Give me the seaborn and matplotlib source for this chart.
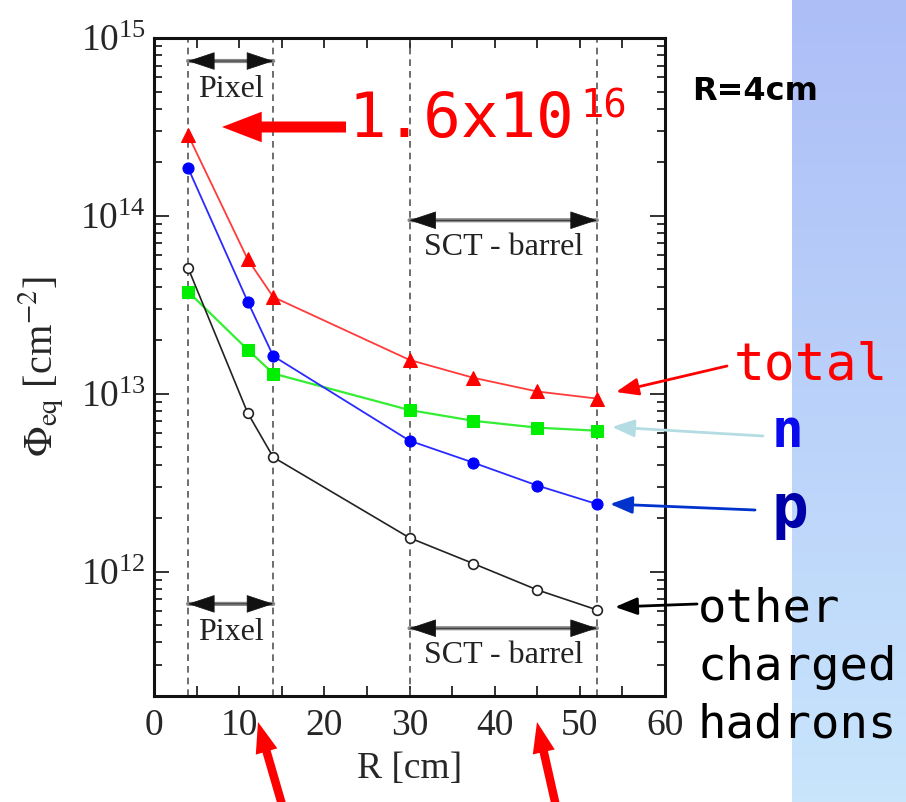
import numpy as np
import pandas as pd
import seaborn as sns
import matplotlib.pyplot as plt
from matplotlib.ticker import LogLocator, MultipleLocator, NullFormatter

# radius of the layers [cm]
radius = [4, 11, 14, 30, 37.5, 45, 52]

# equivalent fluence [cm^-2]
total = [2.85e14, 5.7e13, 3.5e13, 1.55e13, 1.23e13, 1.03e13, 9.4e12]
neutrons = [3.75e13, 1.77e13, 1.3e13, 8.1e12, 7.05e12, 6.45e12, 6.2e12]
protons = [1.86e14, 3.3e13, 1.63e13, 5.45e12, 4.1e12, 3.05e12, 2.4e12]
other = [5.1e13, 7.8e12, 4.4e12, 1.55e12, 1.11e12, 7.9e11, 6.1e11]

detector_edges = [4, 14, 30, 52]
pixel_range = (4, 14)
sct_range = (30, 52)

df = pd.DataFrame({'R': radius, 'total': total, 'n': neutrons,
                   'p': protons, 'other': other})

sns.set_theme(style='ticks')
plt.rcParams['font.family'] = 'serif'
plt.rcParams['font.serif'] = ['Liberation Serif', 'DejaVu Serif']
plt.rcParams['mathtext.fontset'] = 'stix'

W, H = 906, 802
fig = plt.figure(figsize=(W / 100, H / 100), dpi=100)
fig.patch.set_facecolor('white')


def fx(x, y):
    # pixel position (from top-left) -> figure fraction
    return (x / W, 1 - y / H)


# blue gradient strip on the right
bg = fig.add_axes([792 / W, 0, (W - 792) / W, 1], zorder=-5)
top_c = np.array([173, 190, 247]) / 255
bot_c = np.array([200, 229, 252]) / 255
t = np.linspace(0, 1, 200)[:, None, None]
bg.imshow(top_c * (1 - t) + bot_c * t, aspect='auto')
bg.axis('off')

ax = fig.add_axes([154 / W, 1 - 696 / H, (665 - 154) / W, (696 - 38) / H])
ax.set_facecolor('white')

for xe in detector_edges:
    ax.axvline(xe, color='#555555', ls=(0, (4, 3)), lw=1.2, zorder=1)

sns.lineplot(data=df, x='R', y='total', ax=ax, color='#ff3b3b', lw=1.3,
             marker='^', markersize=10, markerfacecolor='red',
             markeredgecolor='red', zorder=3)
sns.lineplot(data=df, x='R', y='n', ax=ax, color='#33ee33', lw=1.6,
             marker='s', markersize=9, markerfacecolor='#00ee00',
             markeredgecolor='#00ee00', zorder=3)
sns.lineplot(data=df, x='R', y='p', ax=ax, color='#2a2aff', lw=1.3,
             marker='o', markersize=8, markerfacecolor='blue',
             markeredgecolor='blue', zorder=3)
sns.lineplot(data=df, x='R', y='other', ax=ax, color='#222222', lw=1.2,
             marker='o', markersize=7, markerfacecolor='white',
             markeredgecolor='#222222', markeredgewidth=1.2, zorder=3)

ax.set_yscale('log')
ax.set_xlim(0, 60)
ax.set_ylim(2e11, 1e15)
ax.xaxis.set_major_locator(MultipleLocator(10))
ax.xaxis.set_minor_locator(MultipleLocator(5))
ax.yaxis.set_major_locator(LogLocator(base=10, numticks=10))
ax.yaxis.set_minor_locator(LogLocator(base=10, subs=np.arange(2, 10), numticks=20))
ax.yaxis.set_minor_formatter(NullFormatter())

ax.tick_params(which='both', direction='in', top=True, right=True,
               width=1.3, color='#222222')
ax.tick_params(axis='y', which='major', length=11, labelsize=27, pad=6)
ax.tick_params(axis='y', which='minor', length=6)
ax.tick_params(axis='x', which='both', length=7, labelsize=27, pad=9)
for s in ax.spines.values():
    s.set_linewidth(2.2)
    s.set_color('#111111')

ax.set_xlabel('R [cm]', fontsize=27, labelpad=6)
ax.set_ylabel(r'$\Phi_{\rm eq}$ [cm$^{-2}$]', fontsize=29, labelpad=10)

# region markers (Pixel / SCT - barrel)
tr = ax.get_xaxis_transform()
for (a, b), label, ya, yt in [(pixel_range, 'Pixel', 0.965, 0.921),
                              (pixel_range, 'Pixel', 0.140, 0.096),
                              (sct_range, 'SCT - barrel', 0.723, 0.682),
                              (sct_range, 'SCT - barrel', 0.103, 0.062)]:
    ax.annotate('', xy=(a, ya), xytext=(b, ya), xycoords=tr,
                arrowprops=dict(arrowstyle='-', color='#888888', lw=3,
                                shrinkA=0, shrinkB=0))
    ax.annotate('', xy=(a, ya), xytext=(b, ya), xycoords=tr,
                arrowprops=dict(arrowstyle='<|-|>,head_length=0.9,head_width=0.3',
                                color='#111111', lw=0.5, mutation_scale=20,
                                shrinkA=0, shrinkB=0))
    ax.text((a + b) / 2, yt, label, transform=tr, ha='center', va='center',
            fontsize=23, color='#222222')

# annotations outside / over the axes
def arrow(tail, head, color, style, ms):
    ax.annotate('', xy=fx(*head), xytext=fx(*tail), xycoords='figure fraction',
                annotation_clip=False,
                arrowprops=dict(arrowstyle=style, color=color, lw=0,
                                mutation_scale=ms, shrinkA=0, shrinkB=0))


def thin_arrow(tail, head, color):
    ax.annotate('', xy=fx(*head), xytext=fx(*tail), xycoords='figure fraction',
                annotation_clip=False,
                arrowprops=dict(arrowstyle='-|>,head_length=0.9,head_width=0.35',
                                color=color, lw=2, mutation_scale=15,
                                shrinkA=0, shrinkB=0))


arrow((346, 127), (222, 127), 'red',
      'simple,head_length=1.3,head_width=1.0,tail_width=0.36', 22)
arrow((285, 815), (258, 722), 'red',
      'simple,head_length=1.3,head_width=0.95,tail_width=0.36', 17)
arrow((558, 815), (537, 722), 'red',
      'simple,head_length=1.3,head_width=0.95,tail_width=0.36', 17)

thin_arrow((727, 366), (616, 392), 'red')
thin_arrow((763, 436), (612, 427), '#b3dde2')
thin_arrow((755, 510), (610, 504), '#0033cc')
thin_arrow((697, 604), (615, 607), 'black')

mono = 'DejaVu Sans Mono'
fig.text(*fx(348, 137), '1.6x10', family=mono, fontsize=45, color='red',
         va='baseline', ha='left')
fig.text(*fx(580, 117), '16', family=mono, fontsize=28, color='red',
         va='baseline', ha='left')
fig.text(*fx(692, 100), 'R=4cm', family='DejaVu Sans', weight='bold',
         fontsize=23, color='black', va='baseline', ha='left')
fig.text(*fx(734, 380), 'total', family=mono, fontsize=37, color='red',
         va='baseline', ha='left')
fig.text(*fx(772, 447), 'n', family=mono, weight='bold', fontsize=38,
         color='#0a0aee', va='baseline', ha='left')
fig.text(*fx(772, 527), 'p', family=mono, weight='bold', fontsize=44,
         color='#0000aa', va='baseline', ha='left')
for line, yb in [('other', 622), ('charged', 680), ('hadrons', 737)]:
    fig.text(*fx(698, yb), line, family=mono, fontsize=34, color='black',
             va='baseline', ha='left')

fig.savefig('out.png', dpi=100)
